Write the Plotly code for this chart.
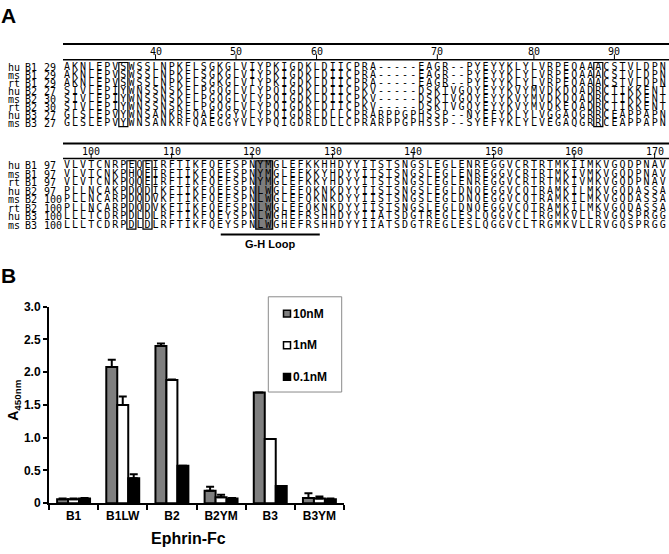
import plotly.graph_objects as go

W, H = 669, 554

# ---------------- Panel A data ----------------
species = ["hu", "ms", "rt", "hu", "ms", "rt", "hu", "ms"]
ephrins = ["B1", "B1", "B1", "B2", "B2", "B2", "B3", "B3"]

start1 = [29, 29, 29, 27, 30, 30, 27, 27]
seq1 = [
    "AKNLEPVSWSSLNPKFLSGKGLVIYPKIGDKLDIICPRA-----EAGR--PYEYYKLYLVRPEQAAACSTVLDPN",
    "AKNLEPVSWSSLNPKFLSGKGLVIYPKIGDKLDIICPRA-----EAGR--PYEYYKLYLVRPEQAAACSTVLDPN",
    "AKNLEPVSWSSLNPKFLSGKGLVIYPKIGDKLDIICPRA-----EAGR--PYEYYKLYLVRPEQAAACSTVLDPN",
    "SIVLEPIYWNSSNSKFLPGQGLVLYPQIGDKLDIICPKV-----DSKTVGQYEYYKVYMVDKDQADRCTIKKENT",
    "SIVLEPIYWNSSNSKFLPGQGLVLYPQIGDKLDIICPKV-----DSKTVGQYEYYKVYMVDKDQADRCTIKKENT",
    "SIVLEPIYWNSSNSKFLPGQGLVLYPQIGDKLDIICPKV-----DSKTVGQYEYYKVYMVDKEQADRCTIKKENT",
    "GLSLEPVYWNSANKRFQAEGGYVLYPQIGDRLDLLCPRARPPGPHSSP--NYEFYKLYLVGGAQGRRCEAPPAPN",
    "GLSLEPVYWNSANKRFQAEGGYVLYPQIGDRLDLLCPRARPPGPHSSP--SYEFYKLYLVEGAQGRRCEAPPAPN",
]
ruler1 = [40, 50, 60, 70, 80, 90]

start2 = [97, 97, 97, 97, 100, 100, 100, 100]
seq2 = [
    "VLVTCNRPEQEIRFTIKFQEFSPNYMGLEFKKHHDYYITSTSNGSLEGLENREGGVCRTRTMKIIMKVGQDPNAV",
    "VLVTCNKPHQEIRFTIKFQEFSPNYMGLEFKKYHDYYITSTSNGSLEGLENREGGVCRTRTMKIVMKVGQDPNAV",
    "VLVTCNKPQQEIRFTIKFQEFSPNYMGLEFKKYHDYYITSTSNGSLEGLENREGGVCRTRTMKIVMKVGQDPNAV",
    "PLLNCAKPDQDIKFTIKFQEFSPNLWGLEFQKNKDYYIISTSNGSLEGLDNQEGGVCQTRAMKILMKVGQDASSA",
    "PLLNCARPDQDVKFTIKFQEFSPNLWGLEFQKNKDYYIISTSNGSLEGLDNQEGGVCQTRAMKILMKVGQDASSA",
    "PLLNCARPDQDVKFTIKFQEFSPNLWGLEFQKNKDYYIISTSNGSLEGLDNQEGGVCQTRAMKILMKVGQDASSA",
    "LLLTCDRPDLDLRFTIKFQEYSPNLWGHEFRSHHDYYIIATSDGTREGLESLQGGVCLTRGMKVLLRVGQSPRGG",
    "LLLTCDRPDLDLRFTIKFQEYSPNLWGHEFRSHHDYYIIATSDGTREGLESLQGGVCLTRGMKVLLRVGQSPRGG",
]
ruler2 = [100, 110, 120, 130, 140, 150, 160, 170]

# features, in hu B1 residue numbering
boxed_res1 = [36, 88]
boxed_res2 = [105, 107]
shaded_res2 = [121, 122]
gh_loop = (116, 128)
gh_label = "G-H Loop"

# ---------------- Panel B data ----------------
categories = ["B1", "B1LW", "B2", "B2YM", "B3", "B3YM"]
series_names = ["10nM", "1nM", "0.1nM"]
vals_10nM = [0.06, 2.08, 2.40, 0.19, 1.69, 0.08]
err_10nM = [0.01, 0.11, 0.04, 0.06, 0.00, 0.07]
vals_1nM = [0.06, 1.50, 1.88, 0.09, 0.98, 0.07]
err_1nM = [0.01, 0.13, 0.01, 0.04, 0.00, 0.03]
vals_01nM = [0.07, 0.38, 0.57, 0.07, 0.26, 0.06]
err_01nM = [0.01, 0.06, 0.00, 0.01, 0.00, 0.01]
y_ticks = [0, 0.5, 1.0, 1.5, 2.0, 2.5, 3.0]
y_ticktext = ["0", "0.5", "1.0", "1.5", "2.0", "2.5", "3.0"]

# ---------------- layout constants (pixels) ----------------
COL0_PX, PITCH = 67.0, 8.05
BLOCKS = [
    dict(row0=61.7, rp=8.2, top=30, bot=128, rul_top=38, rul_bot=54, rul_lab=45.5, tick_top=48.5),
    dict(row0=162.8, rp=8.75, top=132, bot=252, rul_top=140, rul_bot=155.5, rul_lab=148.5, tick_top=150),
]
SEQ_FONT = dict(family="DejaVu Sans Mono", size=10, color="black")
LAB_X = [7, 24, 43]
BOLD = "Liberation Sans"


def px2x(px):
    return (px - COL0_PX) / PITCH


def res_to_col(seq, start):
    m = {}
    r = start
    for i, ch in enumerate(seq):
        if ch != "-":
            m[r] = i
            r += 1
    return m


fig = go.Figure()
shapes = []
annotations = []

fig.update_layout(xaxis=dict(domain=[0, 1], range=[px2x(0), px2x(W)], visible=False,
                             fixedrange=True))

blocks_data = [(seq1, start1, ruler1, boxed_res1, []), (seq2, start2, ruler2, boxed_res2, shaded_res2)]
for b, (seqs, starts, ruler, boxed, shaded) in enumerate(blocks_data):
    g = BLOCKS[b]
    yname = "y" if b == 0 else "y2"
    ykey = "yaxis" if b == 0 else "yaxis2"

    def py(px, g=g):
        return (px - g["row0"]) / g["rp"]

    fig.update_layout(**{ykey: dict(domain=[1 - g["bot"] / H, 1 - g["top"] / H],
                                    range=[py(g["bot"]), py(g["top"])],
                                    visible=False, fixedrange=True, anchor="x")})
    n = len(seqs)
    cmap = res_to_col(seqs[0], starts[0])

    # shaded column (under text)
    if shaded:
        c0, c1 = cmap[shaded[0]], cmap[shaded[-1]]
        shapes.append(dict(type="rect", xref="x", yref=yname, x0=c0 - 0.55, x1=c1 + 0.55,
                           y0=-0.58, y1=n - 0.55, line=dict(color="black", width=1.2),
                           fillcolor="#7d7d7d", layer="below"))

    xs, ys, ts = [], [], []
    for r, s in enumerate(seqs):
        for c, ch in enumerate(s):
            xs.append(c)
            ys.append(r)
            ts.append(ch)
    fig.add_trace(go.Scatter(x=xs, y=ys, text=ts, mode="text", textposition="middle center",
                             textfont=SEQ_FONT, xaxis="x", yaxis=yname, hoverinfo="skip",
                             cliponaxis=False, showlegend=False))
    # row labels
    for r in range(n):
        for lx, lt in zip(LAB_X, [species[r], ephrins[r], str(starts[r])]):
            annotations.append(dict(x=lx / W, xref="paper", y=r, yref=yname, xanchor="left",
                                    yanchor="middle", showarrow=False, text=lt, font=SEQ_FONT,
                                    borderpad=0))
    # ruler
    for key, wd in (("rul_top", 2), ("rul_bot", 1.5)):
        shapes.append(dict(type="line", xref="paper", yref=yname, x0=63 / W, x1=1,
                           y0=py(g[key]), y1=py(g[key]), line=dict(color="black", width=wd)))
    for res in ruler:
        col = cmap[res]
        shapes.append(dict(type="line", xref="x", yref=yname, x0=col, x1=col,
                           y0=py(g["rul_bot"]), y1=py(g["tick_top"]),
                           line=dict(color="black", width=1)))
        annotations.append(dict(x=col, xref="x", y=py(g["rul_lab"]), yref=yname,
                                text=str(res), showarrow=False, font=SEQ_FONT,
                                xanchor="center", yanchor="middle"))
    # outlined columns
    for res in boxed:
        c = cmap[res]
        shapes.append(dict(type="rect", xref="x", yref=yname, x0=c - 0.56, x1=c + 0.56,
                           y0=-0.58, y1=n - 0.55, line=dict(color="black", width=1.2),
                           fillcolor="rgba(0,0,0,0)", layer="above"))
    if b == 1:
        c0, c1 = cmap[gh_loop[0]], cmap[gh_loop[1]]
        shapes.append(dict(type="line", xref="x", yref=yname, x0=c0 + 0.1, x1=c1 + 0.4,
                           y0=py(233.3), y1=py(233.3), line=dict(color="black", width=2)))
        annotations.append(dict(x=(c0 + c1 + 0.5) / 2, xref="x", y=py(243.5), yref=yname,
                                xanchor="center", yanchor="middle",
                                text=f"<b>{gh_label}</b>", showarrow=False,
                                font=dict(family=BOLD, size=11, color="black")))

# ---------------- Panel B ----------------
bar_colors = ["#7f7f7f", "white", "black"]
vals = [vals_10nM, vals_1nM, vals_01nM]
errs = [err_10nM, err_1nM, err_01nM]
for name, v, e, colr in zip(series_names, vals, errs, bar_colors):
    fig.add_trace(go.Bar(x=categories, y=v, name=name, xaxis="x3", yaxis="y3",
                         marker=dict(color=colr, line=dict(color="black", width=2)),
                         error_y=dict(type="data", array=e, arrayminus=[0] * len(e),
                                      symmetric=False, color="black", thickness=2, width=4),
                         showlegend=False, hoverinfo="skip"))

AX_L, AX_R, AX_B, AX_T = 49, 344, 509, 307.5
tickfont = dict(family=BOLD, size=12, color="black", weight="bold")
fig.update_layout(
    xaxis3=dict(domain=[AX_L / W, AX_R / W], anchor="y3", type="category",
                range=[-0.5, len(categories) - 0.5], showline=True, linecolor="black",
                linewidth=2, ticks="outside", ticklen=5, tickwidth=2, tickcolor="black",
                tickson="boundaries", showgrid=False, tickfont=tickfont, fixedrange=True),
    yaxis3=dict(domain=[1 - AX_B / H, 1 - AX_T / H], anchor="x3", range=[0, 3.0],
                showline=True, linecolor="black", linewidth=2, ticks="outside", ticklen=4,
                tickwidth=2, tickcolor="black", tickvals=y_ticks, ticktext=y_ticktext,
                showgrid=False, zeroline=False, tickfont=tickfont, fixedrange=True),
    barmode="group", bargap=0.33, bargroupgap=0.0,
)

# axis titles
annotations.append(dict(x=14 / W, y=1 - 404 / H, xref="paper", yref="paper", textangle=-90,
                        xanchor="center", yanchor="middle",
                        text="<b>A<sub>450nm</sub></b>", showarrow=False,
                        font=dict(family=BOLD, size=14, color="black")))
annotations.append(dict(x=188 / W, y=1 - 545 / H, xref="paper", yref="paper",
                        xanchor="center", yanchor="middle",
                        text="<b>Ephrin-Fc</b>", showarrow=False,
                        font=dict(family=BOLD, size=16, color="black")))

# legend box (drawn)
LG_L, LG_R, LG_T, LG_B = 268.3, 341.7, 297.3, 395
shapes.append(dict(type="rect", xref="paper", yref="paper", x0=LG_L / W, x1=LG_R / W,
                   y0=1 - LG_B / H, y1=1 - LG_T / H, line=dict(color="#8a8a8a", width=1),
                   fillcolor="white", layer="above"))
item_y = [314.5, 347, 379.5]
for name, colr, yy in zip(series_names, bar_colors, item_y):
    shapes.append(dict(type="rect", xref="paper", yref="paper", x0=283.5 / W, x1=290.5 / W,
                       y0=1 - (yy + 3.5) / H, y1=1 - (yy - 3.5) / H,
                       line=dict(color="black", width=1.5), fillcolor=colr, layer="above"))
    annotations.append(dict(x=292 / W, y=1 - yy / H, xref="paper", yref="paper",
                            xanchor="left", yanchor="middle", text=f"<b>{name}</b>",
                            showarrow=False, borderpad=0,
                            font=dict(family=BOLD, size=12, color="black")))

# panel letters
for letter, yy in (("A", 9), ("B", 275.5)):
    annotations.append(dict(x=8 / W, y=1 - yy / H, xref="paper", yref="paper",
                            xanchor="center", yanchor="middle", text=f"<b>{letter}</b>",
                            showarrow=False, font=dict(family=BOLD, size=21, color="black")))

fig.update_layout(width=W, height=H, margin=dict(l=0, r=0, t=0, b=0),
                  paper_bgcolor="white", plot_bgcolor="rgba(0,0,0,0)",
                  shapes=shapes, annotations=annotations, showlegend=False)

fig.write_html("out.html", config={"displayModeBar": False},
               post_script="document.body.style.margin='0px';")
